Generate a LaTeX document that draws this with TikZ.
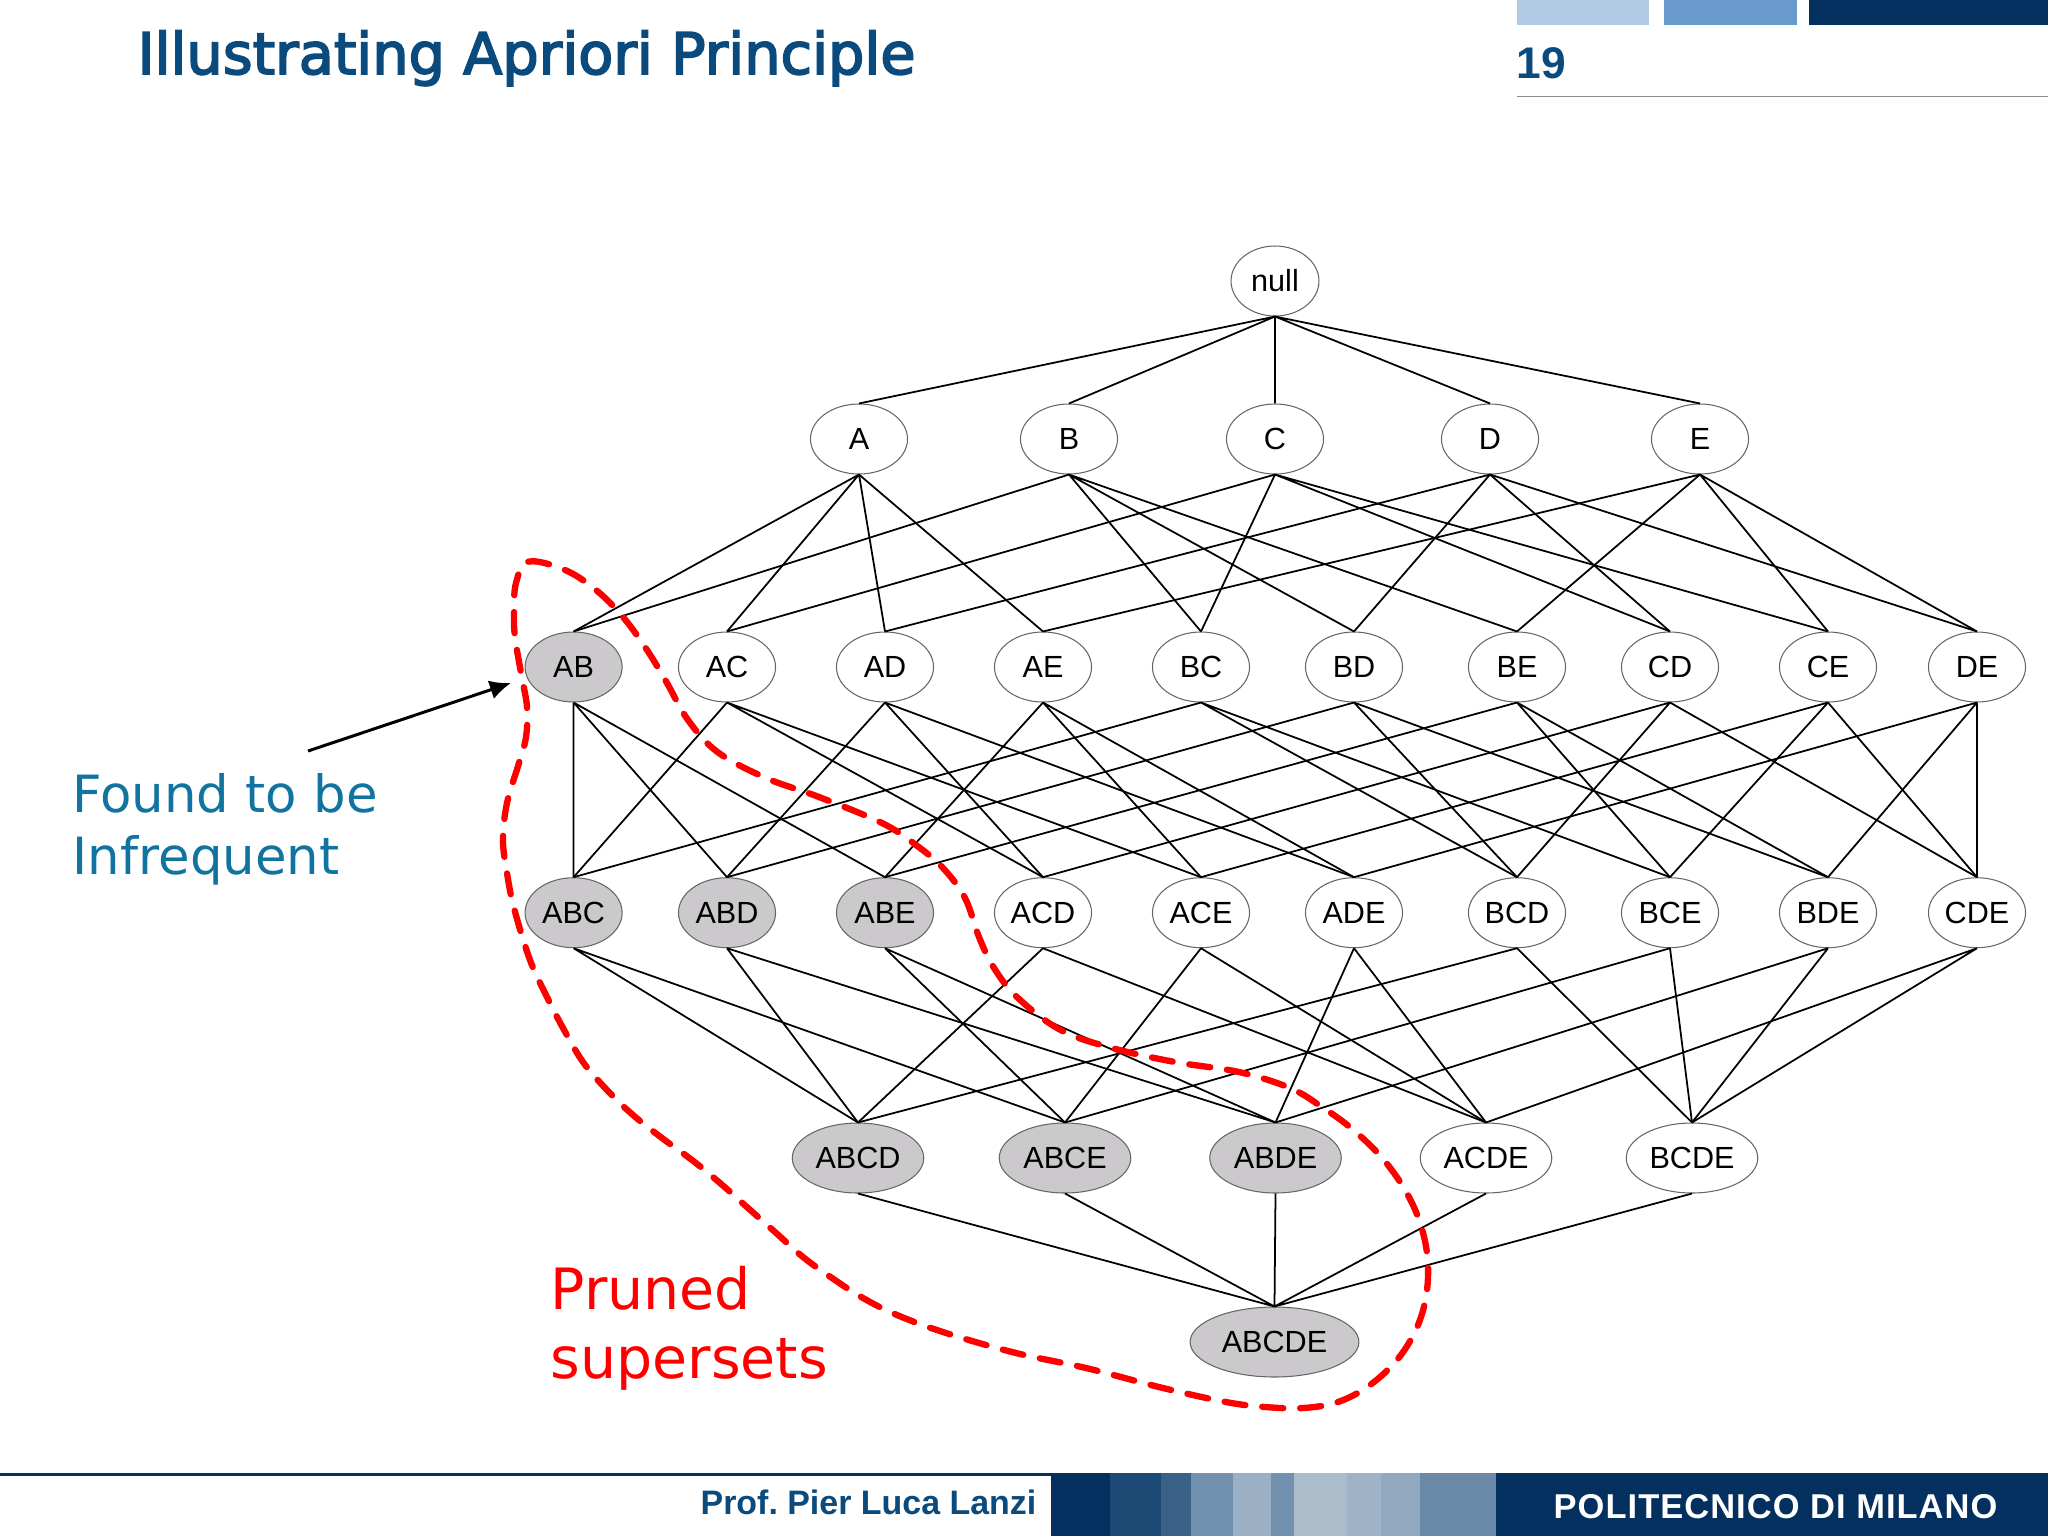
\documentclass[tikz,border=0pt]{standalone}
\usepackage{fontspec}
\setmainfont{Liberation Sans}
\newfontfamily\slidefont{DejaVu Sans}
\newfontfamily\titlefont[FakeBold=3]{DejaVu Sans}
\newfontfamily\logofont[LetterSpace=3]{Liberation Sans Bold}
\usepackage{tikz}
\usetikzlibrary{arrows.meta,shapes.geometric}
\definecolor{titleblue}{HTML}{0A4A7C}
\definecolor{navy}{HTML}{03305F}
\definecolor{noteblue}{HTML}{1173A0}
\definecolor{prunedgray}{HTML}{CBC9CC}
\tikzset{
	itemset/.style={ellipse, draw=black!60, line width=0.3pt, inner sep=0pt, minimum width=27.6pt, minimum height=19.9pt, font=\fontsize{8.7}{10}\selectfont},
	pruned/.style={itemset, fill=prunedgray},
	wide/.style={minimum width=37.4pt},
	widest/.style={minimum width=48pt},
	lattice/.style={draw=black, line width=0.5pt},
	prunedline/.style={draw=red, line width=1.8pt, line cap=round, dash pattern=on 6pt off 4.8pt},
	notearrow/.style={draw=black, line width=0.85pt, -{Latex[length=6pt,width=5.5pt]}},
	slidetext/.style={inner sep=0pt, anchor=base west, align=left}
}
\begin{document}
\begin{tikzpicture}[x=0.01cm,y=-0.01cm]
	\useasboundingbox (0,0) rectangle (2048,1536);
	% header
	\fill[color={rgb,255:red,176;green,203;blue,227}] (1517,0) rectangle (1649,25);
	\fill[color={rgb,255:red,104;green,154;blue,203}] (1664,0) rectangle (1797,25);
	\fill[navy] (1809,0) rectangle (2048,25);
	\draw[black!45, line width=0.5pt] (1517,96.5)--(2048,96.5);
	\node[slidetext, text=titleblue, font=\titlefont\fontsize{16.3}{20}\selectfont] (slidetitle) at (137,74) {Illustrating Apriori Principle};
	\node[slidetext, text=titleblue, font=\bfseries\fontsize{12.6}{15}\selectfont] (pagenum) at (1516,78) {19};
	% footer
	\fill[navy] (0,1473) rectangle (2048,1476);
	\fill[navy] (1051,1473) rectangle (2048,1536);
	\fill[color={rgb,255:red,28;green,74;blue,117}] (1110,1473) rectangle (1161,1536);
	\fill[color={rgb,255:red,58;green,98;blue,136}] (1161,1473) rectangle (1191,1536);
	\fill[color={rgb,255:red,114;green,145;blue,174}] (1191,1473) rectangle (1233,1536);
	\fill[color={rgb,255:red,155;green,176;blue,196}] (1233,1473) rectangle (1271,1536);
	\fill[color={rgb,255:red,114;green,145;blue,174}] (1271,1473) rectangle (1294,1536);
	\fill[color={rgb,255:red,171;green,188;blue,203}] (1294,1473) rectangle (1347,1536);
	\fill[color={rgb,255:red,160;green,178;blue,198}] (1347,1473) rectangle (1381,1536);
	\fill[color={rgb,255:red,146;green,168;blue,191}] (1381,1473) rectangle (1420,1536);
	\fill[color={rgb,255:red,107;green,138;blue,168}] (1420,1473) rectangle (1496,1536);
	\node[text=titleblue, inner sep=0pt, anchor=base east, font=\bfseries\fontsize{9.65}{12}\selectfont] (author) at (1037,1514) {Prof.\ Pier Luca Lanzi};
	\node[text=white, inner sep=0pt, anchor=base west, font=\logofont\fontsize{9.8}{12}\selectfont] (school) at (1553,1518) {POLITECNICO DI MILANO};
	% itemsets
	\node[itemset, minimum width=25pt] (null) at (1275,281) {null};
	\node[itemset] (A) at (859,439) {A};
	\node[itemset] (B) at (1069,439) {B};
	\node[itemset] (C) at (1275,439) {C};
	\node[itemset] (D) at (1490,439) {D};
	\node[itemset] (E) at (1700,439) {E};
	\node[pruned] (AB) at (573.6,667) {AB};
	\node[itemset] (AC) at (727,667) {AC};
	\node[itemset] (AD) at (885,667) {AD};
	\node[itemset] (AE) at (1043,667) {AE};
	\node[itemset] (BC) at (1201,667) {BC};
	\node[itemset] (BD) at (1354,667) {BD};
	\node[itemset] (BE) at (1517,667) {BE};
	\node[itemset] (CD) at (1670,667) {CD};
	\node[itemset] (CE) at (1828,667) {CE};
	\node[itemset] (DE) at (1977,667) {DE};
	\node[pruned] (ABC) at (573.6,912.7) {ABC};
	\node[pruned] (ABD) at (727,912.7) {ABD};
	\node[pruned] (ABE) at (885,912.7) {ABE};
	\node[itemset] (ACD) at (1043,912.7) {ACD};
	\node[itemset] (ACE) at (1201,912.7) {ACE};
	\node[itemset] (ADE) at (1354,912.7) {ADE};
	\node[itemset] (BCD) at (1517,912.7) {BCD};
	\node[itemset] (BCE) at (1670,912.7) {BCE};
	\node[itemset] (BDE) at (1828,912.7) {BDE};
	\node[itemset] (CDE) at (1977,912.7) {CDE};
	\node[pruned,wide] (ABCD) at (858,1158) {ABCD};
	\node[pruned,wide] (ABCE) at (1065,1158) {ABCE};
	\node[pruned,wide] (ABDE) at (1275.5,1158) {ABDE};
	\node[itemset,wide] (ACDE) at (1486,1158) {ACDE};
	\node[itemset,wide] (BCDE) at (1692,1158) {BCDE};
	\node[pruned,widest] (ABCDE) at (1274.5,1342) {ABCDE};
	% edges
	\draw[lattice] (null.south)--(A.north) (null.south)--(B.north) (null.south)--(C.north) (null.south)--(D.north) (null.south)--(E.north);
	\draw[lattice] (A.south)--(AB.north) (A.south)--(AC.north) (A.south)--(AD.north) (A.south)--(AE.north);
	\draw[lattice] (B.south)--(AB.north) (B.south)--(BC.north) (B.south)--(BD.north) (B.south)--(BE.north);
	\draw[lattice] (C.south)--(AC.north) (C.south)--(BC.north) (C.south)--(CD.north) (C.south)--(CE.north);
	\draw[lattice] (D.south)--(AD.north) (D.south)--(BD.north) (D.south)--(CD.north) (D.south)--(DE.north);
	\draw[lattice] (E.south)--(AE.north) (E.south)--(BE.north) (E.south)--(CE.north) (E.south)--(DE.north);
	\draw[lattice] (AB.south)--(ABC.north) (AB.south)--(ABD.north) (AB.south)--(ABE.north);
	\draw[lattice] (AC.south)--(ABC.north) (AC.south)--(ACD.north) (AC.south)--(ACE.north);
	\draw[lattice] (AD.south)--(ABD.north) (AD.south)--(ACD.north) (AD.south)--(ADE.north);
	\draw[lattice] (AE.south)--(ABE.north) (AE.south)--(ACE.north) (AE.south)--(ADE.north);
	\draw[lattice] (BC.south)--(ABC.north) (BC.south)--(BCD.north) (BC.south)--(BCE.north);
	\draw[lattice] (BD.south)--(ABD.north) (BD.south)--(BCD.north) (BD.south)--(BDE.north);
	\draw[lattice] (BE.south)--(ABE.north) (BE.south)--(BCE.north) (BE.south)--(BDE.north);
	\draw[lattice] (CD.south)--(ACD.north) (CD.south)--(BCD.north) (CD.south)--(CDE.north);
	\draw[lattice] (CE.south)--(ACE.north) (CE.south)--(BCE.north) (CE.south)--(CDE.north);
	\draw[lattice] (DE.south)--(ADE.north) (DE.south)--(BDE.north) (DE.south)--(CDE.north);
	\draw[lattice] (ABC.south)--(ABCD.north) (ABC.south)--(ABCE.north);
	\draw[lattice] (ABD.south)--(ABCD.north) (ABD.south)--(ABDE.north);
	\draw[lattice] (ABE.south)--(ABCE.north) (ABE.south)--(ABDE.north);
	\draw[lattice] (ACD.south)--(ABCD.north) (ACD.south)--(ACDE.north);
	\draw[lattice] (ACE.south)--(ABCE.north) (ACE.south)--(ACDE.north);
	\draw[lattice] (ADE.south)--(ABDE.north) (ADE.south)--(ACDE.north);
	\draw[lattice] (BCD.south)--(ABCD.north) (BCD.south)--(BCDE.north);
	\draw[lattice] (BCE.south)--(ABCE.north) (BCE.south)--(BCDE.north);
	\draw[lattice] (BDE.south)--(ABDE.north) (BDE.south)--(BCDE.north);
	\draw[lattice] (CDE.south)--(ACDE.north) (CDE.south)--(BCDE.north);
	\draw[lattice] (ABCD.south)--(ABCDE.north) (ABCE.south)--(ABCDE.north) (ABDE.south)--(ABCDE.north) (ACDE.south)--(ABCDE.north) (BCDE.south)--(ABCDE.north);
	% pruned region
	\draw[prunedline] plot[smooth cycle, tension=0.6] coordinates {(528.5,561.7) (565,570) (596,590) (623,617) (647,650) (667,683) (688,720) (717.5,752) (766,778) (819,797) (882,823) (916,845) (943,868) (965,898) (979,937) (994,968) (1018,998) (1060.6,1030) (1112,1048) (1175,1062) (1239,1072) (1290,1088) (1322,1107) (1351,1128) (1379.5,1155) (1402,1185) (1418,1217) (1427,1253) (1427,1290) (1418,1325) (1398.6,1358) (1370,1385) (1338,1402) (1303,1408) (1265,1407) (1226,1402) (1163,1388) (1086,1368) (1016,1353) (946,1333) (897,1315) (863,1298) (832,1278) (803,1257) (775,1232) (748,1208) (720,1183) (692,1160) (662,1138) (633,1115) (607,1090) (583,1062) (563,1028) (547,997) (530,960) (514,908) (507,873) (503,840) (507,803) (519,763) (526,737) (527,707) (521,673) (515,637) (514,613) (516,583)};
	% labels
	\coordinate (arrowtail) at (308,751);
	\coordinate (arrowtip) at (511,683);
	\draw[notearrow] (arrowtail)--(arrowtip);
	\node[slidetext, text=noteblue, font=\slidefont\fontsize{14.6}{17.4}\selectfont] (foundnote) at (72,874) {Found to be\\Infrequent};
	\node[slidetext, text=red, font=\slidefont\fontsize{16.2}{19.6}\selectfont] (prunednote) at (550,1378) {Pruned\\supersets};
\end{tikzpicture}
\end{document}
